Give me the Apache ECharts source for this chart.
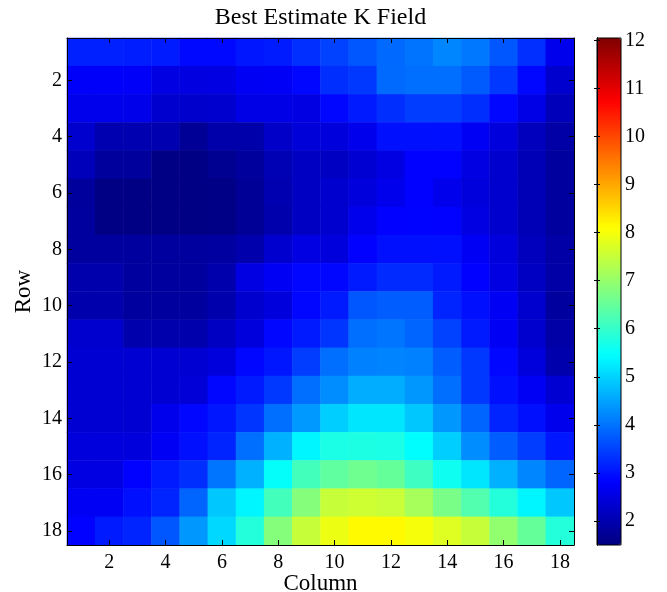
<!DOCTYPE html>
<html lang="en">
  <head>
    <meta charset="UTF-8" />
    <title>Best Estimate K Field</title>
    <script src="https://cdn.jsdelivr.net/npm/echarts@6/dist/echarts.min.js"></script>
    <style>
      * {
        padding: 0;
        margin: 0;
      }
      #main {
        width: 667px;
        height: 592px;
        background-color: #ffffff;
      }
    </style>
  </head>
  <body>
    <div id="main"></div>
    <script>
      // column / row labels (1..18)
      var columns = ["1","2","3","4","5","6","7","8","9","10","11","12","13","14","15","16","17","18"];
      var rows = ["1","2","3","4","5","6","7","8","9","10","11","12","13","14","15","16","17","18"];

      // K values, one array per row
      var row1 = [3.15, 3.15, 3.12, 3.1, 2.9, 2.9, 3.05, 3.1, 3.3, 3.5, 3.7, 3.9, 4.0, 4.2, 4.05, 3.7, 3.3, 2.62];
      var row2 = [2.77, 2.77, 2.76, 2.52, 2.5, 2.52, 2.72, 2.73, 2.88, 3.29, 3.4, 3.91, 3.96, 3.96, 3.76, 3.4, 2.88, 2.31];
      var row3 = [2.62, 2.62, 2.6, 2.31, 2.3, 2.31, 2.57, 2.57, 2.52, 2.88, 3.09, 3.29, 3.45, 3.45, 3.29, 2.88, 2.57, 2.1];
      var row4 = [2.31, 2.0, 2.0, 2.0, 1.74, 1.94, 1.94, 2.26, 2.41, 2.46, 2.62, 2.98, 2.98, 2.98, 2.72, 2.46, 2.13, 1.89];
      var row5 = [2.1, 1.79, 1.79, 1.55, 1.55, 1.68, 1.79, 2.05, 2.2, 2.2, 2.36, 2.52, 2.83, 2.83, 2.52, 2.31, 2.06, 1.81];
      var row6 = [1.79, 1.55, 1.55, 1.55, 1.55, 1.56, 1.74, 2.0, 2.2, 2.31, 2.46, 2.62, 2.83, 2.62, 2.46, 2.31, 2.06, 1.81];
      var row7 = [1.81, 1.55, 1.55, 1.55, 1.55, 1.56, 1.74, 1.97, 2.2, 2.31, 2.62, 2.83, 2.84, 2.83, 2.52, 2.31, 2.06, 1.81];
      var row8 = [1.81, 1.81, 1.81, 1.81, 1.81, 1.83, 1.97, 2.31, 2.52, 2.46, 2.83, 2.98, 2.98, 2.98, 2.72, 2.46, 2.13, 1.89];
      var row9 = [1.97, 1.97, 1.81, 1.81, 1.81, 1.97, 2.52, 2.72, 2.88, 2.88, 3.09, 3.25, 3.25, 3.09, 2.83, 2.52, 2.2, 1.89];
      var row10 = [1.97, 1.97, 1.81, 1.81, 1.81, 1.97, 2.31, 2.46, 2.88, 3.09, 3.7, 3.78, 3.78, 3.19, 2.98, 2.72, 2.31, 1.81];
      var row11 = [2.31, 2.31, 1.97, 1.97, 1.97, 2.2, 2.46, 2.88, 3.09, 3.35, 3.96, 4.02, 3.86, 3.5, 3.09, 2.72, 2.31, 1.89];
      var row12 = [2.36, 2.36, 2.36, 2.36, 2.36, 2.46, 2.88, 3.05, 3.45, 3.96, 4.15, 4.18, 4.15, 3.78, 3.4, 2.88, 2.46, 1.97];
      var row13 = [2.36, 2.36, 2.36, 2.36, 2.4, 2.88, 3.09, 3.4, 3.96, 4.27, 4.6, 4.6, 4.38, 3.96, 3.4, 2.98, 2.72, 2.36];
      var row14 = [2.36, 2.36, 2.36, 2.62, 2.88, 3.05, 3.35, 3.96, 4.4, 4.95, 5.2, 5.2, 4.88, 4.38, 3.86, 3.19, 2.98, 2.62];
      var row15 = [2.46, 2.46, 2.46, 2.72, 2.98, 3.19, 3.96, 4.65, 5.36, 5.72, 5.75, 5.72, 5.45, 4.95, 4.27, 3.78, 3.45, 3.05];
      var row16 = [2.52, 2.52, 2.83, 3.09, 3.29, 4.02, 4.65, 5.5, 6.15, 6.45, 6.6, 6.5, 6.1, 5.6, 5.2, 4.65, 4.2, 3.86];
      var row17 = [2.72, 2.72, 2.98, 3.19, 3.86, 4.88, 5.36, 6.15, 6.83, 7.5, 7.58, 7.52, 7.17, 6.7, 6.3, 5.83, 5.36, 4.88];
      var row18 = [2.83, 3.09, 3.19, 3.7, 4.38, 5.05, 5.83, 6.83, 7.5, 7.9, 8.15, 8.15, 8.0, 7.75, 7.5, 6.96, 6.5, 5.83];

      var kField = [row1, row2, row3, row4, row5, row6, row7, row8, row9,
        row10, row11, row12, row13, row14, row15, row16, row17, row18];

      // colour scale
      var kMin = 1.5;
      var kMax = 12.05;
      var colorbarTicks = [2, 3, 4, 5, 6, 7, 8, 9, 10, 11, 12];

      var heatData = [];
      for (var r = 0; r < kField.length; r++) {
        for (var c = 0; c < kField[r].length; c++) {
          heatData.push([c, r, kField[r][c]]);
        }
      }

      var jet = ["#000080", "#0000ff", "#0080ff", "#00ffff", "#80ff80",
        "#ffff00", "#ff8000", "#ff0000", "#800000"];

      var font = "Liberation Serif";
      var black = "#000000";
      var evenOnly = function (idx) {
        return idx % 2 === 1;
      };

      var myChart = echarts.init(document.getElementById("main"));
      var option = {
        backgroundColor: "#ffffff",
        animation: false,
        grid: [
          { left: 67, top: 38, width: 507, height: 507, outerBoundsMode: "none", containLabel: false },
          { left: 597, top: 38, width: 24, height: 507, outerBoundsMode: "none", containLabel: false,
            show: true, borderColor: black, borderWidth: 1, backgroundColor: "transparent", z: 10 },
        ],
        xAxis: [
          {
            type: "category",
            gridIndex: 0,
            position: "bottom",
            data: columns,
            z: 5,
            name: "Column",
            nameLocation: "middle",
            nameGap: 27,
            nameMoveOverlap: false,
            nameTextStyle: { fontFamily: font, fontSize: 23, color: black },
            axisLine: { show: true, lineStyle: { color: black, width: 1 } },
            axisTick: { show: true, inside: true, length: 5, alignWithLabel: true,
              interval: evenOnly, lineStyle: { color: black } },
            axisLabel: { interval: evenOnly, fontFamily: font, fontSize: 20, color: black, margin: 8 },
            splitLine: { show: false },
          },
          {
            type: "category",
            gridIndex: 0,
            position: "top",
            data: columns,
            z: 5,
            name: "Best Estimate K Field",
            nameLocation: "middle",
            nameGap: 8,
            nameMoveOverlap: false,
            nameTextStyle: { fontFamily: font, fontSize: 24, color: black },
            axisLine: { show: true, lineStyle: { color: black, width: 1 } },
            axisTick: { show: true, inside: true, length: 5, alignWithLabel: true,
              interval: evenOnly, lineStyle: { color: black } },
            axisLabel: { show: false },
            splitLine: { show: false },
          },
          {
            type: "value",
            gridIndex: 1,
            min: 0,
            max: 1,
            show: false,
          },
        ],
        yAxis: [
          {
            type: "category",
            gridIndex: 0,
            position: "left",
            inverse: true,
            data: rows,
            z: 5,
            name: "Row",
            nameLocation: "middle",
            nameGap: 32,
            nameRotate: 90,
            nameMoveOverlap: false,
            nameTextStyle: { fontFamily: font, fontSize: 23, color: black },
            axisLine: { show: true, lineStyle: { color: black, width: 1 } },
            axisTick: { show: true, inside: true, length: 5, alignWithLabel: true,
              interval: evenOnly, lineStyle: { color: black } },
            axisLabel: { interval: evenOnly, fontFamily: font, fontSize: 20, color: black, margin: 5 },
            splitLine: { show: false },
          },
          {
            type: "category",
            gridIndex: 0,
            position: "right",
            inverse: true,
            data: rows,
            z: 5,
            axisLine: { show: true, lineStyle: { color: black, width: 1 } },
            axisTick: { show: true, inside: true, length: 5, alignWithLabel: true,
              interval: evenOnly, lineStyle: { color: black } },
            axisLabel: { show: false },
            splitLine: { show: false },
          },
          {
            type: "value",
            gridIndex: 1,
            position: "right",
            min: kMin,
            max: kMax,
            z: 12,
            axisLine: { show: true, lineStyle: { color: black, width: 1 } },
            axisTick: { show: true, inside: true, length: 3, customValues: colorbarTicks,
              lineStyle: { color: black } },
            axisLabel: { customValues: colorbarTicks, fontFamily: font, fontSize: 20,
              color: black, margin: 4 },
            splitLine: { show: false },
          },
          {
            type: "value",
            gridIndex: 1,
            position: "left",
            min: kMin,
            max: kMax,
            z: 12,
            axisLine: { show: true, lineStyle: { color: black, width: 1 } },
            axisTick: { show: true, inside: true, length: 3, customValues: colorbarTicks,
              lineStyle: { color: black } },
            axisLabel: { show: false },
            splitLine: { show: false },
          },
        ],
        visualMap: {
          type: "continuous",
          seriesIndex: 0,
          dimension: 2,
          min: kMin,
          max: kMax,
          calculable: false,
          hoverLink: false,
          orient: "vertical",
          left: 597,
          top: 38,
          padding: 0,
          itemWidth: 24,
          itemHeight: 507,
          inRange: { color: jet },
        },
        series: [
          {
            name: "K",
            type: "heatmap",
            xAxisIndex: 0,
            yAxisIndex: 0,
            data: heatData,
            progressive: 0,
            emphasis: { disabled: true },
            itemStyle: { borderWidth: 0 },
          },
        ],
      };
      myChart.setOption(option);
    </script>
  </body>
</html>
